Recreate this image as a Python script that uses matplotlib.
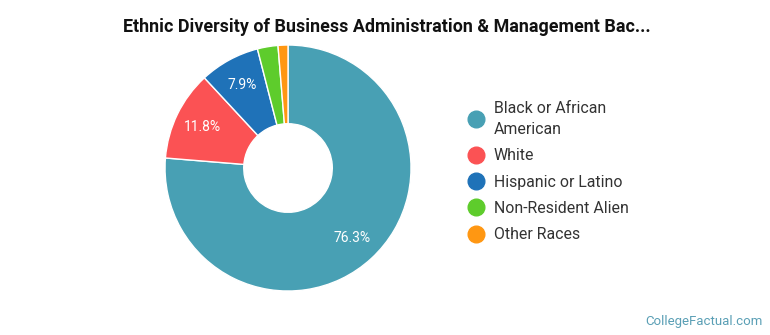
import matplotlib
matplotlib.use('Agg')
import matplotlib.pyplot as plt
from matplotlib.lines import Line2D

plt.rcParams['font.family'] = ['Roboto', 'DejaVu Sans']

# Dados
categorias = ['Black or African\nAmerican', 'White', 'Hispanic or Latino',
              'Non-Resident Alien', 'Other Races']
percentuais = [76.3, 11.8, 7.9, 2.7, 1.3]
rotulos = ['76.3%', '11.8%', '7.9%', '', '']
cores = ['#48A0B4', '#FB5254', '#1F72B8', '#5ECC2C', '#FF9712']

fig = plt.figure(figsize=(7.7, 3.35), dpi=100)
ax = fig.add_axes([0.2143, 0.1313, 0.3195, 0.7343])

fatias, textos = ax.pie(percentuais, colors=cores, startangle=90, counterclock=False,
                        labels=rotulos, labeldistance=0.77,
                        wedgeprops=dict(width=0.64, edgecolor='white', linewidth=1))
for t in textos:
    t.set_color('white')
    t.set_fontsize(10)
    t.set_ha('center')
    t.set_va('center')
ax.set_xlim(-1, 1)
ax.set_ylim(-1, 1)
ax.set_aspect('equal')
ax.axis('off')

# Legenda
handles = [Line2D([0], [0], marker='o', linestyle='', markersize=12,
                  markerfacecolor=c, markeredgecolor=c) for c in cores]
leg = fig.legend(handles, categorias, loc='upper left', bbox_to_anchor=(0.6, 0.718),
                 frameon=False, fontsize=11.4, labelcolor='#333333', handlelength=1.0,
                 handletextpad=0.62, labelspacing=0.72, borderaxespad=0)
for t in leg.get_texts():
    t.set_linespacing(1.5)

fig.text(0.502, 1 - 27 / 335, 'Ethnic Diversity of Business Administration & Management Bac...',
         ha='center', va='center', fontsize=12.9, fontweight='bold', color='#111111')
fig.text(0.991, 1 - 321 / 335, 'CollegeFactual.com', ha='right', va='center',
         fontsize=9.5, color='#5A9FB5')

fig.savefig('out.png', dpi=100)
